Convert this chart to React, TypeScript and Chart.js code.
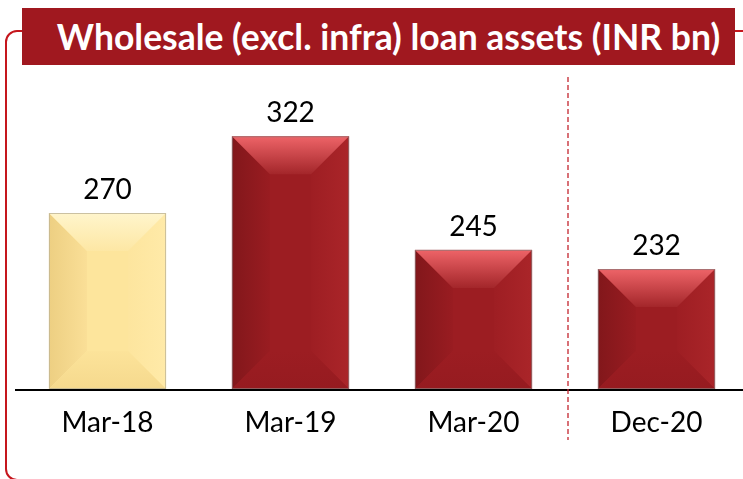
import React, { useEffect, useRef } from "react";
import { Chart, registerables } from "chart.js";

Chart.register(...registerables);

const categories = ["Mar-18", "Mar-19", "Mar-20", "Dec-20"];
const values = [270, 322, 245, 232];
const barKinds = ["yellow", "red", "red", "red"];
const titleText = "Wholesale (excl. infra) loan assets (INR bn)";
const yMin = 150;
const yMax = 350;

const palettes: Record<string, any> = {
  red: {
    base: "#9C1D22",
    topLight: "#EE6468",
    topInner: "#A3262A",
    left0: "#82171B",
    left1: "#991C21",
    right0: "#AA2529",
    right1: "#9E1E23",
    bottom0: "#961B20",
    bottom1: "#9C1D22",
    border: "rgba(140,120,120,0.7)",
  },
  yellow: {
    base: "#FDE59C",
    topLight: "#FFF5CC",
    topInner: "#FDE7A4",
    left0: "#EDCF82",
    left1: "#FADF97",
    right0: "#FFEAA8",
    right1: "#FDE59E",
    bottom0: "#F5D98D",
    bottom1: "#FCE39A",
    border: "rgba(190,180,150,0.8)",
  },
};

const FONT = "Lato, 'Open Sans', sans-serif";

const bevelPlugin = {
  id: "bevel",
  afterDatasetsDraw(chart: any) {
    const ctx = chart.ctx;
    const meta = chart.getDatasetMeta(0);
    meta.data.forEach((bar: any, i: number) => {
      const p = palettes[barKinds[i]];
      const w = bar.width;
      const l = bar.x - w / 2;
      const r = bar.x + w / 2;
      const t = bar.y;
      const b = Math.min(bar.base, chart.chartArea.bottom - 1);
      const h = b - t;
      const bv = Math.min(38, h / 2 - 1, w / 2 - 1);
      ctx.save();
      ctx.fillStyle = p.base;
      ctx.fillRect(l, t, w, h);
      let g = ctx.createLinearGradient(l, 0, l + bv, 0);
      g.addColorStop(0, p.left0);
      g.addColorStop(1, p.left1);
      ctx.fillStyle = g;
      ctx.beginPath();
      ctx.moveTo(l, t);
      ctx.lineTo(l + bv, t + bv);
      ctx.lineTo(l + bv, b - bv);
      ctx.lineTo(l, b);
      ctx.closePath();
      ctx.fill();
      g = ctx.createLinearGradient(r, 0, r - bv, 0);
      g.addColorStop(0, p.right0);
      g.addColorStop(1, p.right1);
      ctx.fillStyle = g;
      ctx.beginPath();
      ctx.moveTo(r, t);
      ctx.lineTo(r - bv, t + bv);
      ctx.lineTo(r - bv, b - bv);
      ctx.lineTo(r, b);
      ctx.closePath();
      ctx.fill();
      g = ctx.createLinearGradient(0, b, 0, b - bv);
      g.addColorStop(0, p.bottom0);
      g.addColorStop(1, p.bottom1);
      ctx.fillStyle = g;
      ctx.beginPath();
      ctx.moveTo(l, b);
      ctx.lineTo(l + bv, b - bv);
      ctx.lineTo(r - bv, b - bv);
      ctx.lineTo(r, b);
      ctx.closePath();
      ctx.fill();
      g = ctx.createLinearGradient(0, t, 0, t + bv);
      g.addColorStop(0, p.topLight);
      g.addColorStop(1, p.topInner);
      ctx.fillStyle = g;
      ctx.beginPath();
      ctx.moveTo(l, t);
      ctx.lineTo(r, t);
      ctx.lineTo(r - bv, t + bv);
      ctx.lineTo(l + bv, t + bv);
      ctx.closePath();
      ctx.fill();
      ctx.strokeStyle = p.border;
      ctx.lineWidth = 1;
      ctx.strokeRect(l + 0.5, t + 0.5, w - 1, h - 1);
      ctx.fillStyle = "#000";
      ctx.font = `28px ${FONT}`;
      ctx.textAlign = "center";
      ctx.textBaseline = "alphabetic";
      ctx.fillText(String(values[i]), bar.x, t - 14);
      ctx.restore();
    });
  },
  afterDraw(chart: any) {
    const ctx = chart.ctx;
    const xs = chart.scales.x;
    const x = (xs.getPixelForValue(2) + xs.getPixelForValue(3)) / 2 + 3;
    ctx.save();
    ctx.strokeStyle = "#C4262E";
    ctx.lineWidth = 1.3;
    ctx.setLineDash([5, 3]);
    ctx.beginPath();
    ctx.moveTo(x, chart.chartArea.top - 18);
    ctx.lineTo(x, chart.chartArea.bottom + 50);
    ctx.stroke();
    ctx.restore();
  },
};

export default function App() {
  const ref = useRef<HTMLCanvasElement | null>(null);

  useEffect(() => {
    if (!ref.current) return;
    const chart = new Chart(ref.current, {
      type: "bar",
      data: {
        labels: categories,
        datasets: [
          {
            data: values,
            backgroundColor: "rgba(0,0,0,0)",
            borderWidth: 0,
            barPercentage: 0.64,
            categoryPercentage: 1,
          },
        ],
      },
      options: {
        animation: false,
        responsive: false,
        maintainAspectRatio: false,
        layout: { padding: { left: 16, right: 12, top: 95, bottom: 0 } },
        plugins: {
          legend: { display: false },
          title: { display: false },
          tooltip: { enabled: false },
        },
        scales: {
          x: {
            grid: { display: false, drawTicks: false },
            border: { display: true, color: "#000", width: 2 },
            ticks: {
              color: "#000",
              padding: 16,
              font: { family: FONT, size: 28 },
            },
            afterFit: (scale: any) => {
              scale.height = 89;
            },
          },
          y: {
            display: false,
            min: yMin,
            max: yMax,
          },
        },
      },
      plugins: [bevelPlugin],
    });
    return () => chart.destroy();
  }, []);

  return (
    <div
      style={{
        position: "fixed",
        left: 0,
        top: 0,
        width: 743,
        height: 479,
        overflow: "hidden",
        background: "#fff",
      }}
    >
      <div
        style={{
          position: "absolute",
          left: 5,
          top: 30,
          width: 800,
          height: 447,
          border: "2px solid #C5161D",
          borderRadius: 12,
          boxSizing: "content-box",
        }}
      />
      <canvas
        ref={ref}
        width={760}
        height={479}
        style={{ position: "absolute", left: 0, top: 0, width: 760, height: 479 }}
      />
      <div
        style={{
          position: "absolute",
          left: 22,
          top: 8,
          width: 713,
          height: 57,
          background: "#A0181F",
          color: "#fff",
          fontFamily: FONT,
          fontWeight: 700,
          fontSize: 35.5,
          display: "flex",
          alignItems: "center",
          justifyContent: "center",
          paddingLeft: 20,
          boxSizing: "border-box",
          whiteSpace: "nowrap",
        }}
      >
        {titleText}
      </div>
    </div>
  );
}
